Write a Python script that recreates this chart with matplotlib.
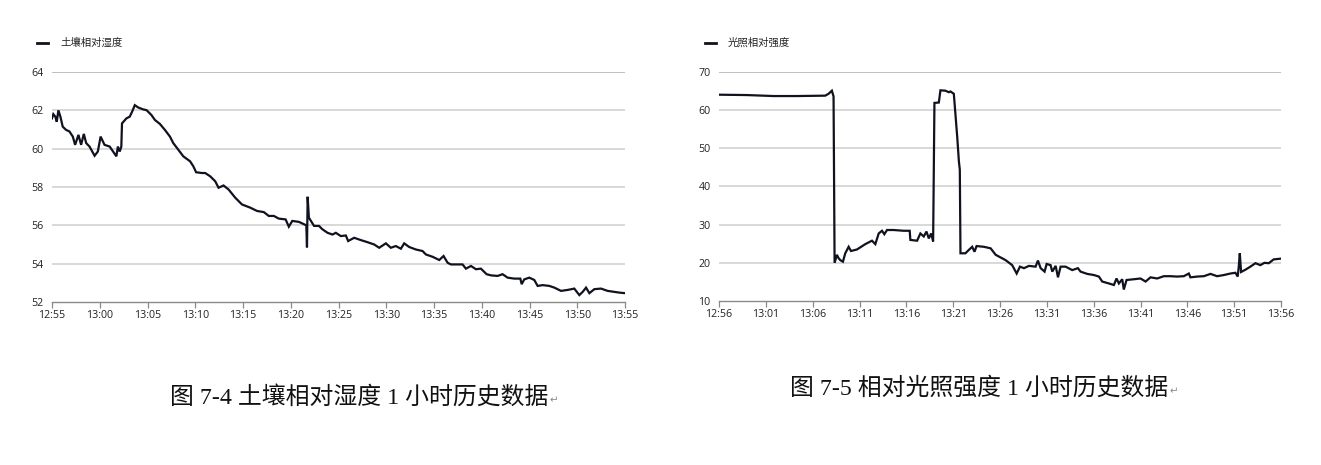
import matplotlib
matplotlib.use("Agg")
import matplotlib.pyplot as plt

# ---------------- data ----------------
# Soil relative humidity (minutes after 12:55)
soil_t = [0, 0.14, 0.35, 0.5, 0.67, 0.88, 1.12, 1.47, 1.82, 2.18, 2.42, 2.77, 3.05, 3.33, 3.58,
          3.93, 4.46, 4.8, 5.09, 5.5, 6.04, 6.39, 6.74, 6.9, 7.09, 7.26, 7.33, 7.79, 8.14, 8.39,
          8.67, 9.02, 9.54, 9.9, 10.42, 10.77, 11.3, 11.82, 12.35, 12.7, 13.23, 13.75, 14.46,
          14.8, 15.09, 15.68, 16.04, 16.56, 17.09, 17.44, 17.96, 18.49, 19.19, 19.89, 20.77,
          21.47, 22.18, 22.7, 23.23, 23.75, 24.46, 24.8, 25.16, 25.86, 26.39, 26.63, 26.7,
          26.77, 26.9, 27.44, 27.96, 28.3, 28.85, 29.37, 29.72, 30.24, 30.77, 31.01, 31.64,
          32.34, 33.04, 33.74, 34.26, 34.96, 35.48, 36.0, 36.53, 36.88, 37.4, 38.1, 38.8,
          39.15, 39.85, 40.55, 41.0, 41.42, 41.77, 42.99, 43.34, 43.87, 44.39, 44.91, 45.51,
          45.96, 46.66, 47.18, 47.71, 48.41, 49.04, 49.18, 49.45, 49.98, 50.5, 50.85, 51.38,
          52.07, 52.6, 53.3, 54.0, 54.69, 55.22, 55.57, 55.92, 56.27, 56.79, 57.49, 58.18,
          58.88, 59.41, 60.0]
soil_v = [61.58, 61.8, 61.67, 61.4, 62.0, 61.67, 61.15, 60.98, 60.9, 60.63, 60.2, 60.72, 60.2,
          60.77, 60.29, 60.11, 59.63, 59.85, 60.63, 60.2, 60.11, 59.85, 59.6, 60.11, 59.85,
          60.11, 61.32, 61.58, 61.67, 61.93, 62.27, 62.15, 62.05, 62.01, 61.75, 61.5, 61.29,
          60.98, 60.63, 60.29, 59.94, 59.6, 59.34, 59.08, 58.77, 58.73, 58.73, 58.56, 58.3,
          57.96, 58.08, 57.87, 57.44, 57.09, 56.92, 56.75, 56.69, 56.49, 56.49, 56.35, 56.31,
          55.93, 56.23, 56.18, 56.06, 56.0, 54.85, 57.49, 56.4, 55.97, 55.97, 55.8, 55.61,
          55.52, 55.61, 55.44, 55.47, 55.18, 55.35, 55.23, 55.12, 55.0, 54.83, 55.06, 54.83,
          54.92, 54.78, 55.06, 54.87, 54.74, 54.66, 54.48, 54.36, 54.19, 54.4, 54.05, 53.96,
          53.96, 53.74, 53.88, 53.71, 53.74, 53.45, 53.39, 53.36, 53.45, 53.27, 53.22, 53.22,
          52.93, 53.18, 53.27, 53.15, 52.84, 52.88, 52.84, 52.75, 52.58, 52.63, 52.7, 52.36,
          52.53, 52.75, 52.46, 52.67, 52.7, 52.58, 52.53, 52.49, 52.46]
soil_ticks = [0, 5, 10, 15, 20, 25, 30, 35, 40, 45, 50, 55, 60]
soil_tick_labels = ["12:55", "13:00", "13:05", "13:10", "13:15", "13:20", "13:25",
                    "13:30", "13:35", "13:40", "13:45", "13:50", "13:55"]
soil_yticks = [52, 54, 56, 58, 60, 62, 64]

# Relative light intensity (minutes after 12:56)
light_t = [0, 2.96, 5.81, 8.31, 11.34, 11.7, 12.05, 12.23, 12.34, 12.59, 12.77, 12.95, 13.23,
           13.48, 13.84, 14.09, 14.73, 15.62, 16.33, 16.69, 17.05, 17.4, 17.65, 17.94, 18.65,
           19.72, 20.36, 20.43, 21.15, 21.5, 21.86, 22.15, 22.4, 22.65, 22.86, 23.0, 23.47,
           23.64, 24.18, 24.54, 24.71, 25.07, 25.43, 25.61, 25.71, 25.78, 26.31, 26.68, 27.03,
           27.28, 27.5, 28.28, 29.0, 29.54, 30.07, 30.6, 31.3, 31.78, 32.13, 32.56, 33.09,
           33.8, 34.05, 34.34, 34.76, 34.98, 35.4, 35.58, 35.94, 36.19, 36.47, 37.0, 37.71,
           38.32, 38.6, 39.31, 40.03, 40.56, 40.91, 41.62, 42.16, 42.44, 42.69, 43.05, 43.22,
           43.51, 44.29, 45.0, 45.54, 46.07, 46.78, 47.49, 48.2, 48.91, 49.62, 50.16, 50.33,
           51.05, 51.76, 52.47, 53.18, 53.89, 54.6, 55.13, 55.38, 55.49, 55.6, 55.74, 56.2,
           56.73, 57.27, 57.8, 58.23, 58.69, 59.22, 60.0]
light_v = [64.05, 63.96, 63.7, 63.7, 63.8, 64.3, 65.1, 63.6, 20.0, 22.1, 21.2, 20.7, 20.3,
           22.5, 24.2, 23.1, 23.5, 24.9, 25.8, 24.9, 27.7, 28.4, 27.5, 28.6, 28.6, 28.4,
           28.4, 26.0, 25.8, 27.7, 26.9, 28.2, 26.4, 27.7, 25.6, 61.9, 62.0, 65.2, 65.1,
           64.7, 64.9, 64.3, 53.1, 46.6, 44.4, 22.5, 22.5, 23.4, 24.2, 22.9, 24.4, 24.2,
           23.8, 22.1, 21.4, 20.7, 19.4, 17.2, 19.0, 18.6, 19.2, 19.0, 20.6, 18.6, 17.7,
           19.7, 19.4, 17.7, 19.2, 16.2, 19.0, 19.0, 18.1, 18.6, 17.7, 17.1, 16.8, 16.4,
           15.1, 14.6, 14.2, 15.9, 14.6, 15.7, 13.0, 15.5, 15.7, 15.9, 15.1, 16.2, 15.9,
           16.5, 16.5, 16.4, 16.5, 17.2, 16.2, 16.4, 16.5, 17.1, 16.5, 16.8, 17.2, 17.4,
           16.4, 19.0, 22.5, 17.6, 18.2, 19.0, 19.9, 19.4, 20.0, 19.9, 20.9, 21.1]
light_ticks = [0, 5, 10, 15, 20, 25, 30, 35, 40, 45, 50, 55, 60]
light_tick_labels = ["12:56", "13:01", "13:06", "13:11", "13:16", "13:21", "13:26",
                     "13:31", "13:36", "13:41", "13:46", "13:51", "13:56"]
light_yticks = [10, 20, 30, 40, 50, 60, 70]

soil_name = "土壤相对湿度"
light_name = "光照相对强度"
caption_left = "图 7-4 土壤相对湿度 1 小时历史数据"
caption_right = "图 7-5 相对光照强度 1 小时历史数据"

# ---------------- drawing ----------------
W, H = 1321, 465
fig = plt.figure(figsize=(W / 100, H / 100), dpi=100)
fig.patch.set_facecolor("white")

UI = ["Open Sans", "Noto Sans CJK SC", "DejaVu Sans"]
CJK = ["Noto Sans CJK SC", "DejaVu Sans"]
SERIF = ["Liberation Serif", "Noto Sans CJK SC", "DejaVu Sans"]
LINE = "#10121f"


def px_axes(x0, x1, ytop, ybot):
    return fig.add_axes([x0 / W, 1 - ybot / H, (x1 - x0) / W, (ybot - ytop) / H])


def style(ax, t, v, ticks, labels, yticks, name, leg_x, leg_y):
    ax.plot(t, v, color=LINE, lw=1.6, solid_joinstyle="miter")
    ax.set_xlim(ticks[0], ticks[-1])
    ax.set_ylim(yticks[0], yticks[-1])
    ax.set_xticks(ticks)
    ax.set_xticklabels(labels, fontfamily=UI, fontsize=7.7, color="#222222")
    ax.set_yticks(yticks)
    ax.set_yticklabels([str(y) for y in yticks], fontfamily=UI, fontsize=7.7, color="#222222")
    for s in ["left", "right", "top"]:
        ax.spines[s].set_visible(False)
    ax.spines["bottom"].set_color("#8a8a8a")
    ax.spines["bottom"].set_linewidth(1.0)
    ax.tick_params(axis="x", length=4, width=0.9, color="#8a8a8a", pad=1.5)
    ax.tick_params(axis="y", length=0, pad=6)
    for y in yticks[1:]:
        c = "#b4b4b4" if y == yticks[-1] else "#d2d2d2"
        ax.axhline(y, color=c, lw=1.2, zorder=0)
    ax.set_facecolor("white")
    # legend
    fig.add_artist(plt.Line2D([leg_x / W, (leg_x + 11) / W], [1 - leg_y / H, 1 - leg_y / H],
                              color=LINE, lw=2.0))
    fig.text((leg_x + 23) / W, 1 - leg_y / H, name, fontfamily=CJK, fontsize=7.5,
             color="#222222", va="center", ha="left")


ax1 = px_axes(52, 625, 72, 302)
style(ax1, soil_t, soil_v, soil_ticks, soil_tick_labels, soil_yticks, soil_name, 37, 43)

ax2 = px_axes(719, 1281, 72, 301)
style(ax2, light_t, light_v, light_ticks, light_tick_labels, light_yticks, light_name, 705, 43)

# captions
t1 = fig.text(170 / W, 1 - 397 / H, caption_left, fontfamily=SERIF, fontsize=17.2,
              color="#111111", va="center", ha="left")
t2 = fig.text(790 / W, 1 - 388 / H, caption_right, fontfamily=SERIF, fontsize=17.2,
              color="#111111", va="center", ha="left")

fig.canvas.draw()
r = fig.canvas.get_renderer()
for t in (t1, t2):
    bb = t.get_window_extent(r)
    fig.text((bb.x1 + 1) / W, (bb.y0 + 3) / H, "\u21b5", fontfamily=["DejaVu Sans"],
             fontsize=7.5, color="#888888", va="bottom", ha="left")

fig.savefig("out.png", dpi=100, facecolor="white")
